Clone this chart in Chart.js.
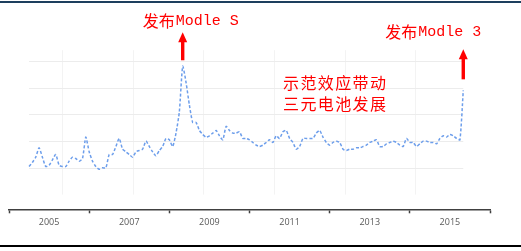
<!DOCTYPE html>
<html>
<head>
<meta charset="utf-8">
<script src="https://cdn.jsdelivr.net/npm/chart.js@4.4.1/dist/chart.umd.min.js"></script>
<style>
  html, body { margin: 0; padding: 0; background: #fff; }
  #wrap { position: relative; width: 521px; height: 251px; overflow: hidden; }
  #topRule { position: absolute; left: 0; top: 1px; width: 521px; height: 2px; background: #1d3f5e; }
  #bottomRule { position: absolute; left: 0; top: 245px; width: 521px; height: 2px; background: #000; }
  canvas { position: absolute; left: 0; top: 0; }
</style>
</head>
<body>
<div id="wrap">
  <canvas id="trend" width="521" height="251"></canvas>
  <div id="topRule"></div>
  <div id="bottomRule"></div>
</div>
<script>
// monthly search index, first point is 2004-07
const firstMonth = 2004 + 6 / 12;
const searchIndex = [
  21, 24, 28, 35, 28, 21, 22, 26, 30, 22,
  21, 21, 25, 28, 27, 25, 27, 43, 32, 25,
  21, 19, 20, 20, 30, 30, 36, 42, 34, 32,
  30, 28, 32, 33, 34, 40, 36, 32, 29, 33,
  36, 42, 41, 36, 46, 62, 96, 84, 67, 54,
  54, 48, 45, 43, 44, 46, 48, 44, 41, 51,
  48, 46, 46, 47, 42, 42, 41, 39, 37, 36,
  37, 39, 41, 39, 44, 42, 47, 48, 42, 39,
  34, 36, 42, 42, 42, 42, 46, 48, 43, 39,
  37, 39, 40, 39, 34, 33, 34, 34, 35, 35,
  36, 37, 39, 40, 41, 36, 36, 38, 39, 40,
  39, 37, 36, 42, 39, 39, 36, 38, 40, 40,
  39, 39, 38, 42, 44, 43, 45, 44, 42, 41,
  78
];
const yearLabels = [2005, 2007, 2009, 2011, 2013, 2015];
const guideValues = [20, 40, 60, 80, 100];
const modelS = ['发布', 'Modle S'];
const model3 = ['发布', 'Modle 3'];
const noteLines = ['示范效应带动', '三元电池发展'];

let points = searchIndex.map((v, i) => ({ x: firstMonth + i / 12, y: v }));
let peakIdx = searchIndex.indexOf(Math.max(...searchIndex));
let lastIdx = searchIndex.length - 1;

function drawArrow(ctx, x, tip, base) {
    ctx.beginPath();
    ctx.moveTo(x, tip);
    ctx.lineTo(x - 4.5, tip + 10);
    ctx.lineTo(x + 4.5, tip + 10);
    ctx.closePath();
    ctx.fill();
    ctx.fillRect(x - 1.7, tip + 9, 3.4, base - tip - 9);
}

function drawTag(ctx, parts, left, cy) {
    ctx.font = '16px "Noto Sans CJK SC"';
    ctx.fillText(parts[0], left, cy);
    let w = ctx.measureText(parts[0]).width;
    ctx.font = '15px "Liberation Mono"';
    ctx.fillText(parts[1], left + w + 1, cy);
}

const overlay = {
    id: 'overlay',
    beforeDatasetsDraw(chart) {
        let ctx = chart.ctx, xs = chart.scales.x, ys = chart.scales.y;
        let x0 = xs.getPixelForValue(points[0].x)
           ,x1 = xs.getPixelForValue(points[lastIdx].x);
        ctx.save();
        ctx.lineWidth = 1;
        ctx.strokeStyle = '#f3f3f3';
        for (let k = 0; k < 6; k++) {
            let px = Math.round(xs.getPixelForValue(2005.32 + k * 1.764)) + 0.5;
            ctx.beginPath();
            ctx.moveTo(px, ys.getPixelForValue(108));
            ctx.lineTo(px, ys.getPixelForValue(0));
            ctx.stroke();
        }
        ctx.strokeStyle = '#ececec';
        guideValues.forEach(v => {
            let py = Math.round(ys.getPixelForValue(v)) + 0.5;
            ctx.beginPath();
            ctx.moveTo(x0, py);
            ctx.lineTo(x1, py);
            ctx.stroke();
        });
        ctx.restore();
    },
    afterDatasetsDraw(chart) {
        let ctx = chart.ctx, xs = chart.scales.x, ys = chart.scales.y;
        let sx = xs.getPixelForValue(points[peakIdx].x), sy = ys.getPixelForValue(points[peakIdx].y);
        let ex = xs.getPixelForValue(points[lastIdx].x), ey = ys.getPixelForValue(points[lastIdx].y);
        ctx.save();
        ctx.fillStyle = '#ff0000';
        ctx.textBaseline = 'middle';
        ctx.textAlign = 'left';
        drawArrow(ctx, sx, sy - 34, sy - 6);
        drawArrow(ctx, ex, ey - 41, ey - 11);
        drawTag(ctx, modelS, sx - 40, sy - 45);
        drawTag(ctx, model3, ex - 78, ey - 58);
        ctx.font = '16px "Noto Sans CJK SC"';
        noteLines.forEach((line, r) => {
            [...line].forEach((ch, c) => {
                ctx.fillText(ch, 283 + c * 17.4, 83 + r * 21);
            });
        });
        ctx.restore();
    }
};

new Chart(document.getElementById('trend'), {
    type: 'line',
    data: {
        datasets: [{
            data: points,
            borderColor: '#6d9eeb',
            borderWidth: 1.5,
            borderDash: [3, 2],
            pointRadius: 0,
            tension: 0.2,
            fill: false
        }]
    },
    options: {
        responsive: false,
        animation: false,
        devicePixelRatio: 1,
        layout: { padding: { top: 27.5, left: 9, right: 31, bottom: 0 } },
        plugins: { legend: { display: false }, tooltip: { enabled: false } },
        scales: {
            x: {
                type: 'linear',
                min: 2004,
                max: 2016,
                afterFit: function (axis) { axis.height = 41.7; },
                border: { display: true, color: '#404040', width: 1.5 },
                grid: {
                    drawOnChartArea: false,
                    tickLength: 4,
                    tickWidth: 1.5,
                    tickColor: c => (c.tick && c.tick.value % 2 === 0) ? '#404040' : 'rgba(0,0,0,0)'
                },
                ticks: {
                    stepSize: 1,
                    autoSkip: false,
                    maxRotation: 0,
                    padding: 4,
                    color: '#595959',
                    font: { family: 'Open Sans', size: 9 },
                    callback: v => yearLabels.includes(v) ? String(v) : ''
                }
            },
            y: {
                display: false,
                min: -11,
                max: 125
            }
        }
    },
    plugins: [overlay]
});
</script>
</body>
</html>
